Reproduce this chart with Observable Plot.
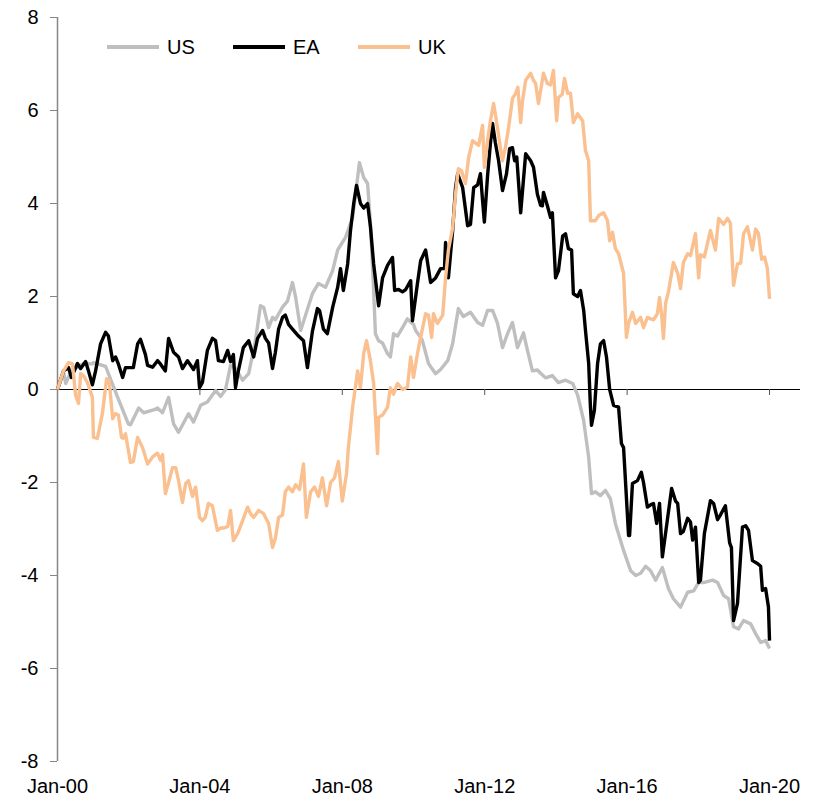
<!DOCTYPE html>
<html>
<head>
<meta charset="utf-8">
<script src="https://cdn.jsdelivr.net/npm/d3@7"></script>
<script src="https://cdn.jsdelivr.net/npm/@observablehq/plot@0.6"></script>
<style>
  html, body { margin: 0; padding: 0; background: #fff; }
  #wrap { position: relative; width: 814px; height: 798px; font-family: "Liberation Sans", Arial, sans-serif; }
  .leg { position: absolute; top: 35px; height: 24px; display: flex; align-items: center; font-size: 20px; color: #000; }
  .leg span.sw { display: inline-block; width: 52px; height: 4px; margin-right: 8px; }
</style>
</head>
<body>
<div id="wrap"></div>
<script>
// ---- data (decimal years since Jan-2000, values) ----
const seriesNames = ["US", "EA", "UK"];
const seriesColors = ["#BFBFBF", "#000000", "#FAC090"];

const usT = [0.00,0.17,0.23,0.37,0.50,0.73,0.98,1.01,1.35,1.69,1.99,2.05,2.28,2.42,2.70,2.81,2.95,3.12,3.26,3.40,3.68,3.82,4.02,4.21,4.44,4.58,4.72,4.86,5.00,5.20,5.37,5.56,5.70,5.79,5.93,6.04,6.12,6.32,6.46,6.60,6.69,6.83,7.16,7.33,7.53,7.73,7.87,8.09,8.29,8.43,8.48,8.60,8.71,8.79,8.88,8.93,9.02,9.13,9.27,9.35,9.44,9.55,9.69,9.83,9.92,10.00,10.06,10.20,10.25,10.42,10.62,10.76,10.96,11.10,11.26,11.40,11.60,11.80,11.94,12.08,12.22,12.36,12.50,12.64,12.78,12.92,13.09,13.20,13.34,13.48,13.57,13.71,13.90,14.07,14.27,14.47,14.61,14.78,14.92,15.00,15.11,15.25,15.39,15.53,15.67,15.90,16.10,16.24,16.38,16.52,16.66,16.80,16.99,17.16,17.30,17.50,17.70,17.87,18.01,18.17,18.40,18.54,18.71,18.85,18.99,19.13,19.27,19.47,19.61,19.75,19.89,20.00];
const usV = [0.00,0.37,0.13,0.37,0.45,0.56,0.55,0.58,0.50,-0.17,-0.74,-0.76,-0.40,-0.50,-0.44,-0.40,-0.50,-0.17,-0.74,-0.92,-0.52,-0.70,-0.34,-0.27,-0.02,-0.15,0.00,0.52,0.45,0.20,0.34,1.05,1.80,1.77,1.33,1.55,1.50,1.77,1.90,2.30,1.98,1.27,2.06,2.28,2.20,2.56,3.00,3.27,3.70,4.56,4.88,4.56,4.43,3.57,2.13,1.20,1.05,1.00,0.77,0.70,1.20,1.15,1.33,1.52,1.45,1.40,1.27,1.12,1.05,0.56,0.34,0.43,0.62,0.99,1.74,1.57,1.66,1.44,1.38,1.70,1.70,1.42,0.90,1.20,1.44,0.90,1.22,0.84,0.40,0.42,0.35,0.25,0.30,0.15,0.20,0.13,-0.12,-0.67,-1.46,-2.24,-2.20,-2.28,-2.17,-2.35,-2.88,-3.46,-3.90,-4.00,-3.95,-3.80,-3.90,-4.10,-3.83,-4.28,-4.50,-4.68,-4.36,-4.33,-4.15,-4.15,-4.10,-4.15,-4.43,-4.50,-5.10,-5.15,-4.97,-5.04,-5.25,-5.44,-5.40,-5.57];

const eaT = [0.00,0.17,0.31,0.39,0.56,0.65,0.79,0.87,0.98,1.07,1.21,1.35,1.43,1.55,1.63,1.71,1.83,1.91,2.13,2.25,2.33,2.47,2.53,2.67,2.81,2.89,3.03,3.12,3.26,3.40,3.51,3.65,3.74,3.82,3.93,3.99,4.07,4.21,4.35,4.44,4.52,4.66,4.78,4.86,4.94,5.00,5.08,5.22,5.37,5.51,5.62,5.76,5.84,5.93,6.04,6.12,6.21,6.32,6.40,6.49,6.60,6.77,6.91,7.02,7.16,7.30,7.36,7.47,7.58,7.73,7.87,7.95,8.03,8.15,8.23,8.32,8.40,8.51,8.60,8.71,8.79,8.88,9.02,9.13,9.27,9.41,9.47,9.58,9.69,9.78,9.92,9.97,10.11,10.20,10.34,10.48,10.62,10.76,10.87,10.90,10.98,11.10,11.18,11.24,11.38,11.52,11.60,11.69,11.80,11.88,11.94,11.99,12.08,12.16,12.22,12.30,12.39,12.50,12.61,12.70,12.78,12.84,12.90,13.01,13.15,13.29,13.37,13.48,13.57,13.62,13.65,13.76,13.85,13.90,13.99,14.07,14.19,14.27,14.35,14.44,14.49,14.61,14.69,14.78,14.83,14.92,14.97,15.00,15.08,15.17,15.25,15.34,15.42,15.51,15.62,15.76,15.84,15.90,15.98,16.04,16.07,16.15,16.29,16.40,16.46,16.57,16.66,16.74,16.83,16.91,16.99,17.14,17.25,17.36,17.42,17.50,17.58,17.70,17.78,17.84,17.92,18.01,18.06,18.17,18.34,18.43,18.54,18.62,18.76,18.88,18.93,18.99,19.10,19.24,19.33,19.41,19.52,19.66,19.75,19.80,19.89,19.97,20.00];
const eaV = [0.00,0.40,0.47,0.26,0.56,0.45,0.60,0.40,0.10,0.40,0.98,1.23,1.15,0.62,0.70,0.55,0.26,0.47,0.47,0.98,1.08,0.75,0.52,0.48,0.62,0.55,0.40,1.10,0.80,0.70,0.45,0.62,0.52,0.43,0.62,0.04,0.15,0.84,1.10,1.05,0.62,0.60,0.84,0.60,0.75,0.04,0.40,0.90,1.05,0.70,1.10,1.27,1.10,1.00,0.45,0.80,1.30,1.55,1.60,1.40,1.30,1.15,1.05,0.47,1.25,1.74,1.70,1.30,1.20,1.77,2.20,2.60,2.13,2.70,3.42,4.00,4.39,4.00,3.90,4.00,3.50,2.70,1.80,2.40,2.67,2.84,2.13,2.15,2.10,2.15,2.34,1.48,2.28,2.77,3.00,2.30,2.40,2.60,2.60,3.16,2.40,3.42,4.34,4.64,4.34,3.52,3.55,4.34,4.40,4.64,4.06,3.60,4.60,5.29,5.72,5.30,4.92,4.28,4.63,5.18,5.20,4.92,5.00,3.80,5.07,4.92,4.78,4.20,3.96,3.95,4.24,3.95,3.70,3.80,2.40,2.55,3.30,3.35,3.03,3.00,2.06,2.00,2.13,1.70,1.27,0.56,-0.38,-0.77,-0.45,0.56,0.98,1.05,0.70,0.00,-0.34,-0.38,-1.16,-1.25,-2.32,-3.14,-3.14,-2.02,-1.96,-1.78,-2.00,-2.53,-2.48,-2.45,-2.88,-2.45,-3.60,-2.75,-2.13,-2.40,-2.45,-3.10,-3.05,-2.77,-2.85,-3.24,-2.96,-4.15,-4.10,-3.10,-2.39,-2.45,-2.80,-2.70,-2.50,-3.30,-3.40,-4.97,-4.60,-2.96,-2.93,-3.03,-3.68,-3.74,-3.80,-4.32,-4.28,-4.68,-5.40];

const ukT = [0.00,0.17,0.31,0.42,0.51,0.59,0.65,0.73,0.84,0.98,1.01,1.12,1.26,1.38,1.45,1.55,1.63,1.71,1.80,1.85,1.91,2.05,2.13,2.25,2.39,2.53,2.67,2.81,2.89,2.95,3.03,3.12,3.23,3.32,3.40,3.51,3.60,3.68,3.79,3.88,3.99,4.07,4.15,4.24,4.35,4.49,4.58,4.66,4.78,4.86,4.94,5.06,5.20,5.34,5.42,5.51,5.65,5.79,5.93,6.04,6.12,6.21,6.32,6.40,6.49,6.60,6.69,6.80,6.85,6.91,6.99,7.11,7.22,7.33,7.44,7.56,7.67,7.78,7.89,8.00,8.12,8.17,8.29,8.43,8.51,8.60,8.68,8.79,8.88,8.99,9.02,9.13,9.27,9.35,9.44,9.55,9.69,9.83,9.92,10.00,10.11,10.20,10.34,10.42,10.51,10.56,10.67,10.82,10.90,10.98,11.10,11.18,11.26,11.35,11.46,11.55,11.66,11.74,11.83,11.94,11.99,12.08,12.16,12.25,12.36,12.44,12.50,12.58,12.67,12.78,12.87,12.93,13.01,13.06,13.15,13.29,13.37,13.43,13.51,13.65,13.76,13.85,13.93,14.02,14.07,14.18,14.24,14.33,14.41,14.49,14.61,14.75,14.83,14.92,14.97,15.11,15.20,15.34,15.45,15.51,15.59,15.67,15.76,15.90,15.98,16.04,16.15,16.24,16.38,16.46,16.57,16.66,16.74,16.85,16.91,16.97,17.02,17.08,17.16,17.30,17.42,17.50,17.58,17.70,17.78,17.92,18.01,18.06,18.17,18.34,18.48,18.57,18.71,18.82,18.90,18.99,19.10,19.19,19.27,19.38,19.52,19.61,19.69,19.78,19.86,19.94,20.00];
const ukV = [0.00,0.40,0.58,0.55,-0.13,-0.30,0.34,0.30,0.15,-0.17,-1.03,-1.05,-0.52,0.23,0.20,-0.63,-0.52,-0.55,-1.03,-1.05,-0.95,-1.57,-1.55,-1.03,-1.25,-1.60,-1.45,-1.37,-1.52,-1.40,-2.24,-2.00,-1.68,-1.68,-1.96,-2.43,-2.02,-1.96,-2.30,-2.10,-2.75,-2.82,-2.75,-2.45,-2.50,-3.03,-2.98,-2.98,-2.95,-2.60,-3.25,-3.10,-2.82,-2.53,-2.67,-2.75,-2.60,-2.67,-2.88,-3.40,-3.20,-2.75,-2.70,-2.20,-2.10,-2.20,-2.05,-2.15,-1.90,-1.60,-2.75,-2.20,-2.10,-2.30,-1.90,-2.50,-2.00,-1.90,-1.55,-2.40,-1.80,-1.25,-0.38,0.40,0.04,0.77,1.05,0.62,0.13,-1.38,-0.60,-0.55,-0.38,0.04,-0.10,0.13,0.00,0.05,0.70,0.26,0.77,1.12,1.63,1.60,1.12,1.63,1.42,1.60,2.40,3.00,3.48,4.20,4.75,4.70,4.43,5.00,5.35,5.30,5.25,5.68,4.78,5.35,5.78,6.15,5.63,5.20,4.92,5.20,5.63,6.26,6.37,6.50,5.74,6.20,6.65,6.80,6.65,6.58,6.15,6.80,6.58,6.55,6.86,5.78,6.28,6.35,6.69,6.37,6.37,5.74,5.93,5.78,5.14,4.92,3.63,3.63,3.74,3.80,3.63,3.20,3.38,3.03,2.92,2.50,1.12,1.42,1.66,1.42,1.55,1.33,1.55,1.52,1.50,1.63,1.98,1.60,1.10,1.85,2.10,2.73,2.50,2.17,2.73,2.92,2.88,3.35,2.40,2.90,2.85,3.42,3.00,3.68,3.55,3.68,3.58,2.24,2.70,2.72,3.35,3.50,3.00,3.45,3.35,2.80,2.85,2.60,1.95];

const xTicks = [0, 4, 8, 12, 16, 20];
const xTickLabels = ["Jan-00", "Jan-04", "Jan-08", "Jan-12", "Jan-16", "Jan-20"];
const yTicks = [-8, -6, -4, -2, 0, 2, 4, 6, 8];
const xDomain = [0, 20.87];
const yDomain = [-8, 8];

// ---- build table ----
const rows = [];
[[usT, usV], [eaT, eaV], [ukT, ukV]].forEach(([T, V], k) => {
  T.forEach((t, i) => rows.push({series: seriesNames[k], t, v: V[i]}));
});

const chart = Plot.plot({
  width: 814,
  height: 798,
  marginLeft: 57,
  marginRight: 14,
  marginTop: 17,
  marginBottom: 37,
  style: {fontFamily: "'Liberation Sans', Arial, sans-serif", fontSize: "20px", background: "white", color: "black"},
  x: {domain: xDomain},
  y: {domain: yDomain},
  color: {domain: seriesNames, range: seriesColors},
  marks: [
    Plot.ruleY([0], {stroke: "black", strokeWidth: 1}),
    Plot.ruleX(xTicks, {x: d => d, y1: 0, y2: 0, insetBottom: -6, stroke: "#555"}),
    Plot.ruleX([xDomain[0]], {y1: yDomain[0], y2: yDomain[1], stroke: "#868686", strokeWidth: 1.5}),
    Plot.axisY({ticks: yTicks, tickSize: 7, tickPadding: 12, stroke: "#868686", fill: "black", fontSize: 20, label: null, tickFormat: d => String(d)}),
    Plot.axisX({ticks: xTicks, tickSize: 0, tickPadding: 17, fill: "black", fontSize: 20, label: null, tickFormat: d => xTickLabels[xTicks.indexOf(d)]}),
    Plot.line(rows, {x: "t", y: "v", z: "series", stroke: "series", strokeWidth: 3.4, strokeLinejoin: "round", strokeLinecap: "butt"})
  ]
});

const wrap = document.getElementById("wrap");
wrap.appendChild(chart);

// legend inside the plot area (HTML overlay)
const legendLeft = [107, 233, 358];
seriesNames.forEach((name, i) => {
  const d = document.createElement("div");
  d.className = "leg";
  d.style.left = legendLeft[i] + "px";
  d.innerHTML = `<span class="sw" style="background:${seriesColors[i]}"></span>${name}`;
  wrap.appendChild(d);
});
</script>
</body>
</html>
